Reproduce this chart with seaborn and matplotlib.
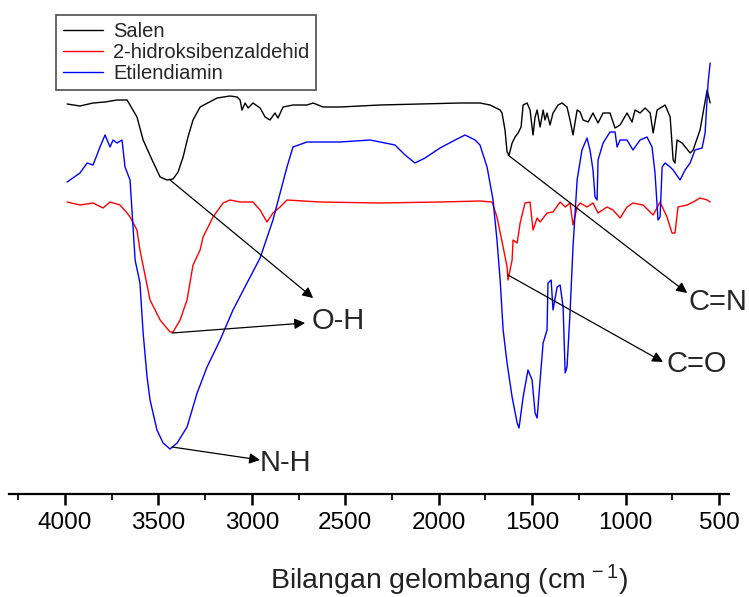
import numpy as np
import pandas as pd
import seaborn as sns
import matplotlib.pyplot as plt

# FTIR spectra (wavenumber in cm-1, transmittance in arbitrary units, curves offset)
salen_wn = [3989, 3920, 3850, 3786, 3722, 3668, 3615, 3582, 3534, 3491, 3454, 3422, 3395,
            3368, 3342, 3315, 3277, 3186, 3117, 3079, 3063, 3053, 3036, 3020, 2994, 2956,
            2929, 2903, 2876, 2860, 2833, 2780, 2705, 2672, 2619, 2528, 2314, 2100, 1886,
            1779, 1725, 1671, 1661, 1645, 1634, 1623, 1607, 1591, 1575, 1559, 1548, 1527,
            1511, 1495, 1484, 1473, 1457, 1441, 1431, 1420, 1404, 1388, 1361, 1340, 1313,
            1297, 1281, 1259, 1243, 1227, 1200, 1174, 1147, 1120, 1083, 1056, 1029, 992,
            965, 949, 922, 895, 868, 852, 831, 788, 761, 745, 735, 724, 697, 654, 638, 601,
            563, 547]
salen_t = [391, 389, 392, 393, 395, 395, 378, 355, 335, 318, 315, 316, 323,
           338, 358, 375, 388, 397, 399, 398, 395, 385, 392, 387, 392, 387,
           378, 375, 382, 377, 388, 390, 390, 392, 388, 388, 390, 391, 392,
           392, 390, 385, 382, 365, 343, 340, 352, 358, 362, 368, 390, 392,
           385, 360, 378, 385, 368, 385, 375, 382, 370, 382, 390, 392, 388,
           375, 360, 385, 383, 375, 373, 382, 372, 382, 382, 367, 370, 382,
           373, 385, 382, 387, 382, 362, 385, 390, 378, 335, 332, 355, 352, 342, 345, 365,
           405, 392]

aldehid_wn = [3989, 3920, 3850, 3797, 3759, 3706, 3668, 3652, 3615, 3599, 3545, 3491, 3438,
              3422, 3384, 3347, 3315, 3277, 3261, 3208, 3154, 3117, 3063, 2994, 2956, 2919,
              2887, 2849, 2812, 2635, 2314, 1993, 1779, 1714, 1688, 1655, 1634, 1629, 1607,
              1602, 1580, 1564, 1538, 1511, 1495, 1473, 1457, 1420, 1388, 1350, 1323, 1297,
              1281, 1259, 1243, 1206, 1174, 1147, 1099, 1067, 1029, 992, 960, 906, 852, 815,
              778, 751, 735, 719, 670, 638, 601, 563, 547]
aldehid_t = [293, 290, 292, 287, 293, 290, 282, 278, 265, 245, 195, 175, 163,
             163, 175, 195, 230, 245, 258, 278, 292, 295, 293, 293, 285, 273,
             282, 288, 295, 293, 292, 293, 294, 293, 278, 248, 228, 215, 235,
             255, 252, 272, 292, 293, 265, 277, 273, 282, 283, 293, 288, 292,
             270, 288, 292, 288, 292, 282, 288, 285, 277, 288, 292, 290, 280, 293,
             278, 262, 262, 288, 290, 293, 297, 295, 293]

diamin_wn = [3989, 3920, 3882, 3850, 3813, 3786, 3759, 3743, 3722, 3695, 3679, 3652, 3625,
             3599, 3582, 3561, 3545, 3508, 3475, 3438, 3400, 3347, 3293, 3240, 3170, 3101,
             3026, 2956, 2887, 2812, 2780, 2705, 2528, 2367, 2234, 2180, 2127, 2073, 1993,
             1912, 1859, 1805, 1779, 1741, 1709, 1688, 1671, 1655, 1634, 1607, 1580, 1570,
             1548, 1522, 1500, 1484, 1473, 1457, 1441, 1420, 1415, 1398, 1388, 1366, 1350,
             1334, 1323, 1313, 1297, 1281, 1259, 1233, 1206, 1190, 1174, 1163, 1152, 1147,
             1120, 1083, 1056, 1045, 1029, 992, 960, 922, 885, 858, 842, 826, 815, 804, 788,
             761, 745, 708, 681, 654, 628, 590, 574, 558, 547]
diamin_t = [313, 322, 332, 330, 348, 360, 348, 355, 352, 355, 328, 315, 235,
            212, 162, 118, 95, 65, 52, 46, 52, 68, 102, 128, 155, 185,
            212, 237, 275, 328, 348, 353, 353, 355, 350, 340, 332, 337, 347,
            355, 360, 355, 350, 328, 295, 255, 215, 165, 132, 98, 72, 67,
            98, 125, 115, 82, 77, 115, 152, 165, 212, 215, 185, 208, 210,
            188, 122, 128, 182, 248, 315, 345, 357, 345, 325, 298, 295, 335,
            352, 363, 363, 348, 355, 355, 345, 355, 358, 348, 322, 275, 278, 328, 332,
            328, 325, 315, 325, 332, 345, 347, 362, 412, 432]

names = ["Salen", "2-hidroksibenzaldehid", "Etilendiamin"]
colors = ["black", "#ff0000", "#0000ff"]

df = pd.concat([
    pd.DataFrame({"wn": salen_wn, "t": salen_t, "sample": names[0]}),
    pd.DataFrame({"wn": aldehid_wn, "t": aldehid_t, "sample": names[1]}),
    pd.DataFrame({"wn": diamin_wn, "t": diamin_t, "sample": names[2]}),
])

sns.set_style("white")
plt.rcParams['font.family'] = ['Liberation Sans', 'DejaVu Sans']
plt.rcParams['mathtext.fontset'] = 'custom'
plt.rcParams['mathtext.rm'] = 'Liberation Sans'
plt.rcParams['mathtext.it'] = 'Liberation Sans'

fig = plt.figure(figsize=(7.49, 5.97), dpi=100)
ax = fig.add_axes([9 / 749, 103 / 597, 720 / 749, 494 / 597])

for name, c in zip(names, colors):
    sub = df[df["sample"] == name]
    sns.lineplot(data=sub, x="wn", y="t", ax=ax, color=c, lw=1.0, label=name,
                 estimator=None, sort=False)

ax.set_xlim(4300, 446)
ax.set_ylim(1, 495)

for s in ["left", "right", "top"]:
    ax.spines[s].set_visible(False)
ax.spines["bottom"].set_linewidth(1.6)
ax.spines["bottom"].set_color("black")

ax.set_xticks([4000, 3500, 3000, 2500, 2000, 1500, 1000, 500])
ax.set_xticks([4250, 3750, 3250, 2750, 2250, 1750, 1250, 750], minor=True)
ax.tick_params(axis="x", which="major", direction="out", length=8, width=1.8,
               labelsize=17.5, pad=5, colors="black", bottom=True)
ax.tick_params(axis="x", which="minor", direction="out", length=4.5, width=1.5,
               bottom=True)
ax.set_yticks([])
ax.set_ylabel("")
ax.set_xlabel("Bilangan gelombang (cm$^{\\,-1}$)", fontsize=20.5, color="#222222")
ax.xaxis.set_label_coords(0.611, -0.14)

# peak annotations
arrow = dict(arrowstyle="-|>", color="black", lw=0.9, mutation_scale=16,
             shrinkA=0, shrinkB=0)
ax.annotate("", xy=(2672, 197), xytext=(3438, 315), arrowprops=arrow)
ax.annotate("", xy=(2715, 172), xytext=(3427, 162), arrowprops=arrow)
ax.annotate("", xy=(2956, 35), xytext=(3427, 48), arrowprops=arrow)
ax.annotate("", xy=(670, 202), xytext=(1629, 340), arrowprops=arrow)
ax.annotate("", xy=(799, 133), xytext=(1629, 220), arrowprops=arrow)
ax.text(2678, 174, "O-H", fontsize=21, va="center", ha="left")
ax.text(2956, 32, "N-H", fontsize=21, va="center", ha="left")
ax.text(665, 193, "C=N", fontsize=21, va="center", ha="left")
ax.text(778, 131, "C=O", fontsize=21, va="center", ha="left")

leg = ax.legend(loc="upper left", bbox_to_anchor=(56 / 749, 1 - 15 / 597),
                bbox_transform=fig.transFigure, borderaxespad=0, fontsize=14.5,
                frameon=True, fancybox=False, handlelength=2.0, handletextpad=0.5,
                labelspacing=0.12, borderpad=0.33)
leg.get_frame().set_edgecolor("#333333")
leg.get_frame().set_linewidth(1.3)

fig.savefig("out.png", dpi=100)
